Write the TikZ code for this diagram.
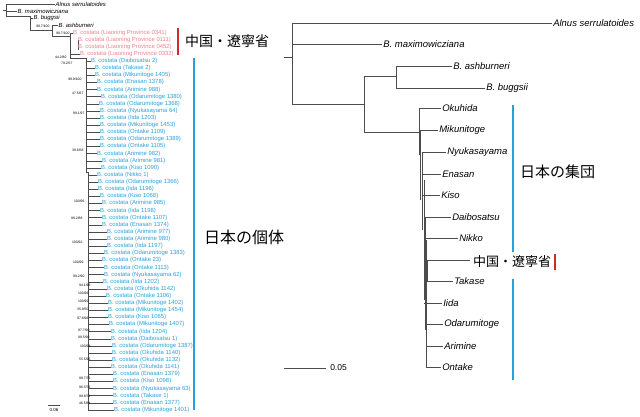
\documentclass[tikz,border=0pt]{standalone}
\usepackage{fontspec}
\setmainfont{Liberation Sans}
\newfontfamily\cjk{Noto Sans CJK JP}
\definecolor{pinkc}{RGB}{236,130,140}
\definecolor{bluec}{RGB}{40,160,220}
\definecolor{redc}{RGB}{210,40,40}
\begin{document}
\begin{tikzpicture}[x=1pt,y=-1pt,
  br/.style={draw=black!70,line width=0.5pt},
  sbr/.style={draw=black!70,line width=0.35pt},
  rl/.style={anchor=west,inner sep=1pt,font=\fontsize{9.5}{10}\selectfont\itshape},
  ll/.style={anchor=west,inner sep=0.5pt,font=\fontsize{5.9}{6}\selectfont},
  bs/.style={anchor=east,inner sep=0.3pt,font=\fontsize{3.4}{3.5}\selectfont},
  jp/.style={font=\cjk\fontsize{14}{15}\selectfont,inner sep=0pt},
  bar/.style={line width=2.4pt}]
\useasboundingbox (0,0) rectangle (640,416);
% ---------------- Right tree ----------------
\draw[br] (284,57) -- (292,57);
\draw[br] (292,23) -- (292,104);
\draw[br] (292,23) -- (552,23) node[rl] (ra) {Alnus serrulatoides};
\draw[br] (292,44) -- (382,44) node[rl] (rm) {B. maximowicziana};
\draw[br] (292,104) -- (364,104);
\draw[br] (364,76) -- (364,132);
\draw[br] (364,76) -- (396,76);
\draw[br] (396,66) -- (396,88);
\draw[br] (396,66) -- (452,66) node[rl] (rash) {B. ashburneri};
\draw[br] (396,88) -- (485,88) node[rl] (rbu) {B. buggsii};
\draw[br] (364,132) -- (419,132);
\draw[br] (419,108) -- (419,155);
\draw[br] (420,130) -- (420,200);
\draw[br] (422,152) -- (422,230);
\draw[br] (424,180) -- (424,300);
\draw[br] (425,217) -- (425,330);
\draw[br] (426,240) -- (426,367);
\draw[br] (427,260) -- (427,281);
\foreach \n/\xs/\xe/\y in {Okuhida/419/441/108, Mikunitoge/420/438/130, Nyukasayama/422/446/152,
  Enasan/422/441/174, Kiso/422/440/195, Daibosatsu/425/451/217, Nikko/425/458/238,
  Takase/427/453/281, Iida/424/442/303, Odarumitoge/425/443/324, Arimine/426/443/346, Ontake/426/441/367}{
  \draw[br] (\xs,\y) -- (\xe,\y) node[rl] (r\n) {\n};
}
\draw[br] (427,260) -- (470,260);
\node[jp,anchor=west,font=\cjk\fontsize{13}{14}\selectfont] (rcn) at (473,262) {中国・遼寧省};
\draw[bar,redc] (555,254) -- (555,270);
\draw[bar,bluec] (513,105) -- (513,252);
\draw[bar,bluec] (513,279) -- (513,380);
\node[jp,anchor=west,font=\cjk\fontsize{15}{16}\selectfont] (rjp) at (520,172) {日本の集団};
\coordinate (sb1) at (284,368);
\coordinate (sb2) at (326,368);
\draw[br] (sb1) -- (sb2) node[anchor=west,inner sep=4pt,font=\fontsize{8.5}{9}\selectfont] (sbl) {0.05};
% ---------------- Left tree ----------------
\draw[sbr] (3,10) -- (6,10);
\draw[sbr] (6,4) -- (6,16);
\draw[sbr] (6,4) -- (55,4) node[ll,font=\fontsize{5.9}{6}\selectfont\itshape] (la) {Alnus serrulatoides};
\draw[sbr] (6,11) -- (17,11) node[ll,font=\fontsize{5.9}{6}\selectfont\itshape] (lm) {B. maximowicziana};
\draw[sbr] (6,16) -- (30,16);
\draw[sbr] (30,18) -- (33,18) node[ll,font=\fontsize{5.9}{6}\selectfont\itshape] (lb) {B. buggsii};
\draw[sbr] (30,16) -- (30,30);
\draw[sbr] (30,30) -- (52,30);
\draw[sbr] (52,25) -- (52,36);
\draw[sbr] (52,25) -- (58,25) node[ll,font=\fontsize{5.9}{6}\selectfont\itshape] (lash) {B. ashburneri};
\draw[sbr] (52,36) -- (70,36);
\draw[sbr] (70,33) -- (70,58);
\draw[sbr] (78,40) -- (78,50);
\foreach \n/\x/\xs/\y [count=\i] in {0341/73/70/33, 0111/78/78/40, 0452/78/78/47, 0332/80/70/54}{
  \draw[sbr] (\xs,\y) -- (\x-0.5,\y) node[ll,text=pinkc] (lp\i) {B. costata (Liaoning Province \n)};
}
\draw[sbr] (70,58) -- (86,58);
\draw[sbr] (86,58) -- (86,172);
\draw[sbr] (86,172) -- (88,172);
\draw[sbr] (88,172) -- (88,410);
\foreach \n/\x [count=\i] in {Daibosatsu 2/91, Takase 2/95, Mikunitoge 1405/95, Enasan 1378/97, Arimine 988/97,
  Odarumitoge 1380/101, Odarumitoge 1368/99, Nyukasayama 64/100, Iida 1203/100, Mikunitoge 1453/100,
  Ontake 1109/100, Odarumitoge 1389/100, Ontake 1105/100, Arimine 982/97, Arimine 981/102, Kiso 1090/101,
  Nikko 1/97, Odarumitoge 1366/98, Iida 1196/98, Kiso 1068/100, Arimine 985/102, Iida 1198/100,
  Ontake 1107/102, Enasan 1374/102, Arimine 977/107, Arimine 980/107, Iida 1197/107, Odarumitoge 1383/104,
  Ontake 23/102, Ontake 1113/104, Nyukasayama 62/104, Iida 1202/103, Okuhida 1142/107, Ontake 1106/106,
  Mikunitoge 1402/108, Mikunitoge 1454/108, Kiso 1065/108, Mikunitoge 1407/109, Iida 1204/111,
  Daibosatsu 1/111, Odarumitoge 1387/112, Okuhida 1140/112, Okuhida 1132/112, Okuhida 1141/111,
  Enasan 1379/113, Kiso 1098/113, Nyukasayama 63/113, Takase 1/113, Enasan 1377/113, Mikunitoge 1401/114}{
  \pgfmathsetmacro\yy{61+(\i-1)*7.12}
  \pgfmathsetmacro\bx{\i<17 ? 86 : 88}
  \draw[sbr] (\bx,\yy) -- (\x-0.5,\yy) node[ll,text=bluec] (lb\i) {B. costata (\n)};
}
\foreach \t/\x/\y in {{99.7/100}/50/26, {99.7/100}/70/33, {44.2/80}/67/57, {79.2/57}/73/63, {99.9/100}/82/79,
  {47.5/67}/84/93, {99.1/97}/85/113, {39.6/58}/84/150, {100/96}/85/201, {99.2/88}/83/218, {100/92}/83/242,
  {100/99}/84/262, {99.2/90}/85/276, {94.1/96}/91/285, {100/96}/89/293, {100/99}/89/301, {35.9/50}/89/309,
  {97.8/96}/89/318, {97.7/90}/90/330, {99.5/90}/90/337, {100/98}/91/346, {55.5/96}/91/359, {99.7/76}/91/378,
  {96.5/76}/91/387, {99.8/74}/91/396, {46.5/84}/91/403}{
  \node[bs] at (\x,\y) {\t};
}
\coordinate (ls1) at (48,405);
\coordinate (ls2) at (60,405);
\draw[sbr] (ls1) -- (ls2);
\node[font=\fontsize{4.5}{5}\selectfont,inner sep=0pt] (lsl) at (54,410) {0.06};
\draw[bar,redc] (178,28) -- (178,55);
\node[jp,anchor=west] (lcn) at (185,41) {中国・遼寧省};
\draw[bar,bluec] (194,58) -- (194,410);
\node[jp,anchor=west,font=\cjk\fontsize{16}{17}\selectfont] (ljp) at (204,237) {日本の個体};
\end{tikzpicture}
\end{document}
